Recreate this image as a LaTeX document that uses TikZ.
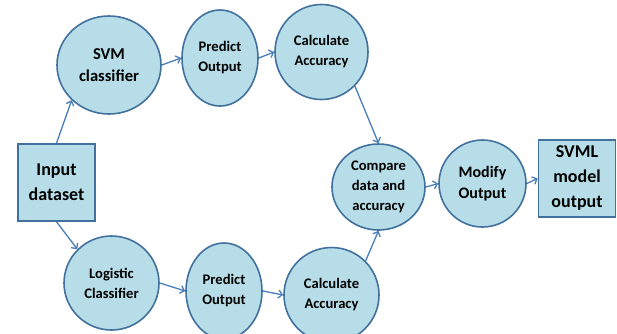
\documentclass[tikz,border=0pt]{standalone}
\usepackage{fontspec}
\setmainfont{Carlito}
\usetikzlibrary{arrows.meta,shapes.geometric}
\definecolor{cellfill}{HTML}{B7DDE8}
\definecolor{celledge}{HTML}{41719C}
\definecolor{flow}{HTML}{4A7EBB}

\begin{document}
\begin{tikzpicture}[
    x=1pt, y=1pt,
    node distance=110pt,
    >={Straight Barb[length=4pt,width=8pt]},
    font=\bfseries,
    stage/.style={
		ellipse,
		draw=celledge,
		line width=1.6pt,
		fill=cellfill,
		inner sep=0pt,
		align=center,
		font=\bfseries\fontsize{14.6}{20}\selectfont
	},
	bigstage/.style={
		stage,
		font=\bfseries\fontsize{16.6}{21.7}\selectfont
	},
	databox/.style={
		rectangle,
		draw=celledge,
		line width=1.6pt,
		fill=cellfill,
		minimum width=77pt,
		minimum height=77pt,
		align=center,
		font=\bfseries\fontsize{18}{25}\selectfont
	},
	link/.style={
		draw=flow,
		line width=1.3pt,
		->
	}
  ]
    \clip (0,0) rectangle (617,-333);

    % We start by placing the blocks
  \node [databox] (input) at (56.5,-182.5) {Input\\dataset};

  \node [bigstage, above of=input, xshift=52.5pt, yshift=7.5pt,
         minimum width=104pt, minimum height=98pt] (svm) {SVM\\classifier};
  \node [stage, right of=svm, xshift=1pt, yshift=7pt,
         minimum width=76pt, minimum height=96pt] (predict1) {Predict\\Output};
  \node [stage, right of=predict1, xshift=-8.5pt, yshift=6pt,
         minimum width=93pt, minimum height=95pt] (calc1) {Calculate\\Accuracy};

  \node [stage, below of=input, xshift=55pt, yshift=9.5pt,
         minimum width=95pt, minimum height=94pt] (logistic) {Logistic\\Classifier};
  \node [stage, right of=logistic, xshift=2.5pt, yshift=-8pt,
         minimum width=76pt, minimum height=96pt] (predict2) {Predict\\Output};
  \node [stage, right of=predict2, xshift=-2.5pt, yshift=-4pt,
         minimum width=95pt, minimum height=95pt] (calc2) {Calculate\\Accuracy};

  \node [stage, below of=calc1, xshift=57pt, yshift=-25pt,
         minimum width=93pt, minimum height=86pt] (compare) {Compare\\data and\\accuracy};
  \node [bigstage, right of=compare, xshift=-6pt, yshift=3.5pt,
         minimum width=87pt, minimum height=87pt,
         font=\bfseries\fontsize{16}{21.7}\selectfont] (modify) {Modify\\Output};
  \node [databox, right of=modify, xshift=-15.5pt, yshift=5pt] (svml) {SVML\\model\\output};

 \draw [link] (input.north) -- (svm.south west);
 \draw [link] (input.south) -- (logistic.north west);
 \draw [link] (svm.east) -- (predict1.west);
 \draw [link] (predict1.east) -- (calc1.west);
 \draw [link] (logistic.east) -- (predict2.west);
 \draw [link] (predict2.east) -- (calc2.west);
 \draw [link] (calc1.south east) -- (compare.north);
 \draw [link] (calc2.north east) -- (compare.south);
 \draw [link] (compare.east) -- (modify.west);
 \draw [link] (modify.east) -- (svml.west);

\end{tikzpicture}
\end{document}
